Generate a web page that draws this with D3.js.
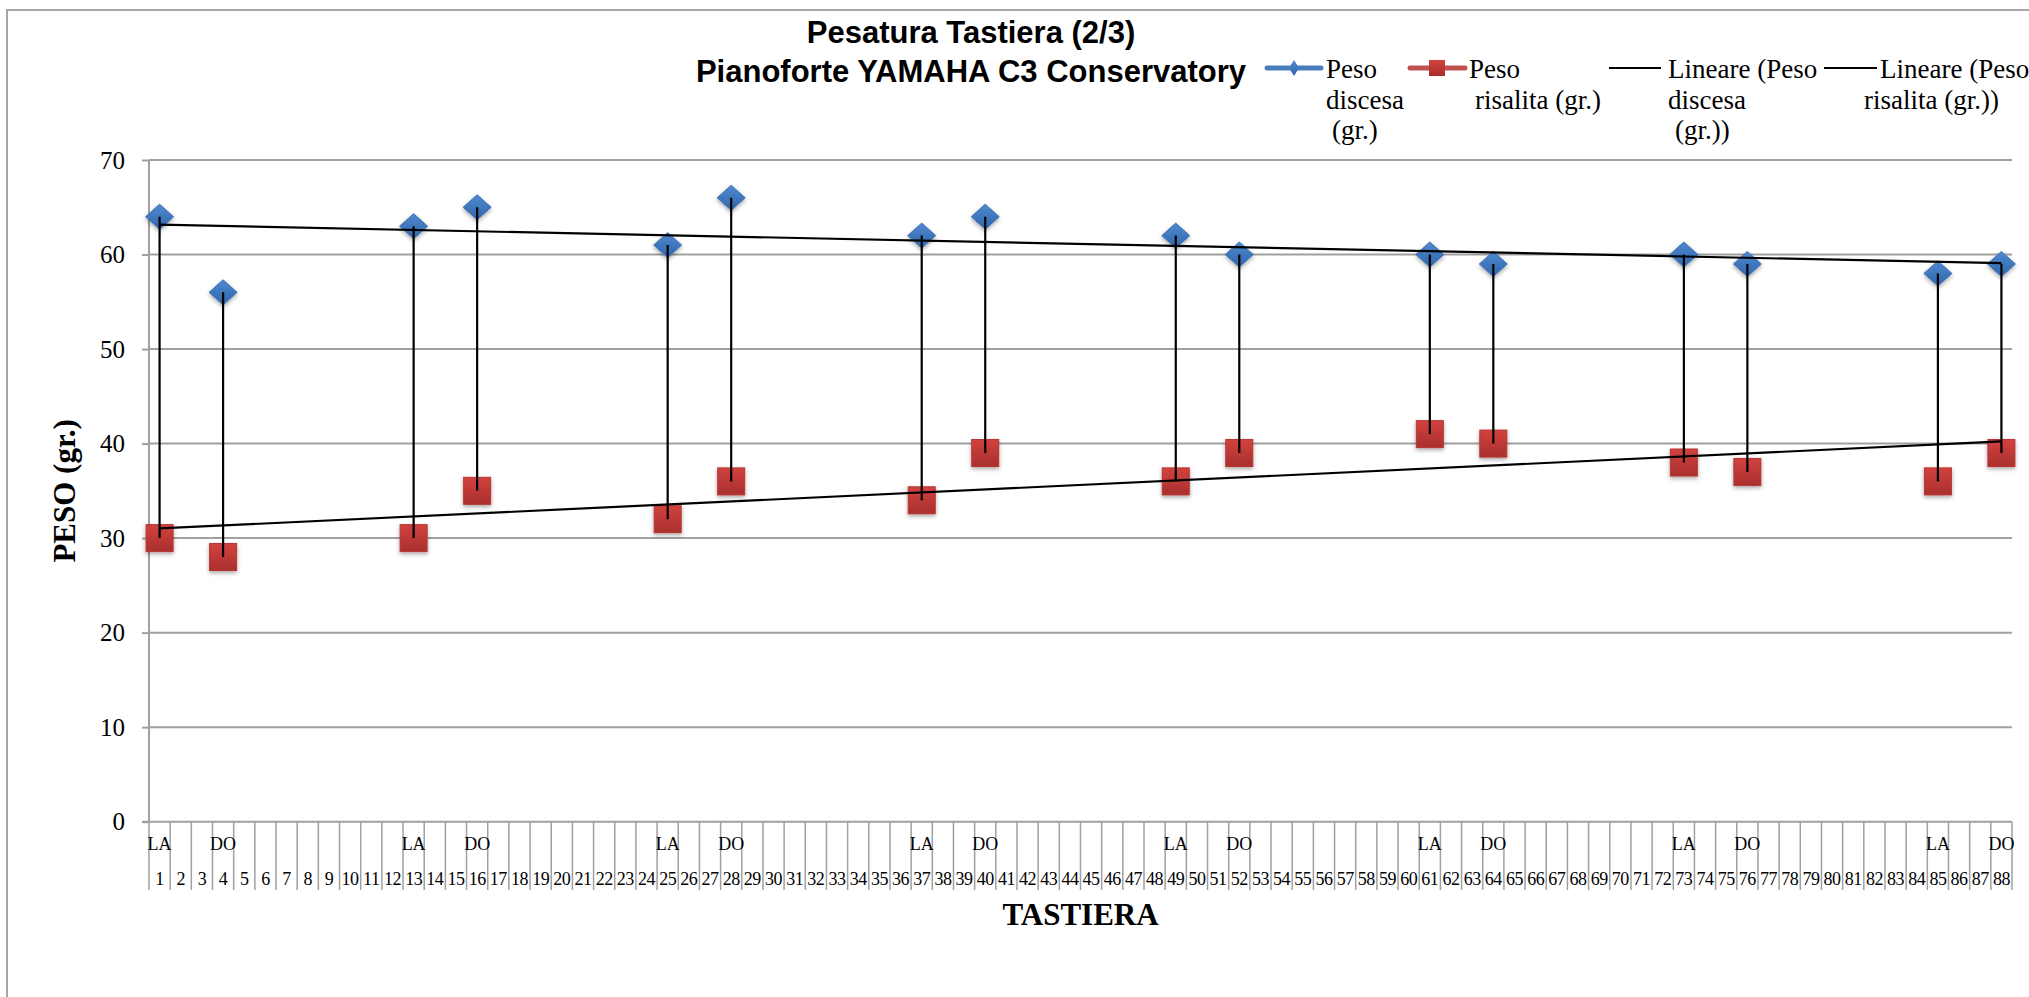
<!DOCTYPE html>
<html>
<head>
<meta charset="utf-8">
<script src="https://cdn.jsdelivr.net/npm/d3@7"></script>
<style>
  html, body { margin: 0; padding: 0; background: #fff; }
  svg { display: block; }
</style>
</head>
<body>
<svg id="chart" width="2029" height="997"></svg>
<script>
// ---- DATA ----
const categories = [1,2,3,4,5,6,7,8,9,10,11,12,13,14,15,16,17,18,19,20,21,22,23,24,25,26,27,28,29,30,
  31,32,33,34,35,36,37,38,39,40,41,42,43,44,45,46,47,48,49,50,51,52,53,54,55,56,57,58,59,60,
  61,62,63,64,65,66,67,68,69,70,71,72,73,74,75,76,77,78,79,80,81,82,83,84,85,86,87,88];
const measuredKeys = [1,4,13,16,25,28,37,40,49,52,61,64,73,76,85,88];
const noteLabels   = ["LA","DO","LA","DO","LA","DO","LA","DO","LA","DO","LA","DO","LA","DO","LA","DO"];
const pesoDiscesa  = [64,56,63,65,61,66,62,64,62,60,60,59,60,59,58,59];
const pesoRisalita = [30,28,30,35,32,36,34,39,36,39,41,40,38,37,36,39];
const yTicks = [0,10,20,30,40,50,60,70];

const titleLines = ["Pesatura Tastiera (2/3)", "Pianoforte YAMAHA C3 Conservatory"];
const yTitle = "PESO (gr.)";
const xTitle = "TASTIERA";

// ---- LAYOUT ----
const svg = d3.select("#chart");
const L = 149, R = 2012, T = 160, B = 821.7;
const serif = "'Liberation Serif', 'Times New Roman', serif";
const sans = "'Liberation Sans', Arial, sans-serif";

const x = d3.scaleBand().domain(categories).range([L, R]).padding(0);
const y = d3.scaleLinear().domain([0, 70]).range([B, T]);
const cx = k => x(k) + x.bandwidth() / 2;

// defs: gradients + shadow
const defs = svg.append("defs");
const gB = defs.append("linearGradient").attr("id","gBlue").attr("x1",0).attr("y1",0).attr("x2",0).attr("y2",1);
gB.append("stop").attr("offset","0%").attr("stop-color","#5089cf");
gB.append("stop").attr("offset","100%").attr("stop-color","#2f66ab");
const gR = defs.append("linearGradient").attr("id","gRed").attr("x1",0).attr("y1",0).attr("x2",0).attr("y2",1);
gR.append("stop").attr("offset","0%").attr("stop-color","#d2423f");
gR.append("stop").attr("offset","100%").attr("stop-color","#a92f2d");
const sh = defs.append("filter").attr("id","shadow").attr("x","-50%").attr("y","-50%").attr("width","200%").attr("height","200%");
sh.append("feDropShadow").attr("dx",0).attr("dy",2).attr("stdDeviation",2).attr("flood-color","#000").attr("flood-opacity",0.35);

// outer frame
svg.append("rect").attr("x",7).attr("y",10).attr("width",2100).attr("height",1100)
  .attr("fill","#fff").attr("stroke","#a6a6a6").attr("stroke-width",2);

// gridlines + y axis
const yAxis = d3.axisLeft(y).tickValues(yTicks).tickSize(7).tickPadding(17);
const gy = svg.append("g").attr("transform",`translate(${L},0)`).call(yAxis);
gy.select(".domain").attr("stroke","#a0a0a0").attr("stroke-width",2).attr("d",`M0,${T}V${B}`);
gy.selectAll(".tick line").attr("stroke","#a0a0a0").attr("stroke-width",2);
gy.selectAll(".tick text").attr("font-family",serif).attr("font-size",25).attr("fill","#000");
svg.append("g").selectAll("line").data(yTicks.filter(v => v > 0)).join("line")
  .attr("x1",L).attr("x2",R).attr("y1",d=>y(d)).attr("y2",d=>y(d))
  .attr("stroke","#a0a0a0").attr("stroke-width",2);

// x axis (two-level category axis)
svg.append("line").attr("x1",L-7).attr("x2",R).attr("y1",B).attr("y2",B)
  .attr("stroke","#a0a0a0").attr("stroke-width",2);
const xg = svg.append("g");
xg.selectAll("line.div").data(categories.concat(["end"])).join("line")
  .attr("class","div")
  .attr("x1",d => d === "end" ? R : x(d)).attr("x2",d => d === "end" ? R : x(d))
  .attr("y1",B).attr("y2",890)
  .attr("stroke","#a0a0a0").attr("stroke-width",1.5);
xg.selectAll("text.num").data(categories).join("text")
  .attr("class","num")
  .attr("x",d => cx(d)).attr("y",885)
  .attr("text-anchor","middle").attr("font-family",serif).attr("font-size",18)
  .attr("letter-spacing","-0.5").attr("fill","#000")
  .text(d => d);
xg.selectAll("text.note").data(measuredKeys).join("text")
  .attr("class","note")
  .attr("x",d => cx(d)).attr("y",850)
  .attr("text-anchor","middle").attr("font-family",serif).attr("font-size",18)
  .attr("fill","#000")
  .text((d,i) => noteLabels[i]);

// axis titles
svg.append("text").attr("x",(L+R)/2).attr("y",925).attr("text-anchor","middle")
  .attr("font-family",serif).attr("font-weight","bold").attr("font-size",31).text(xTitle);
svg.append("text").attr("transform",`translate(75,${(T+B)/2}) rotate(-90)`).attr("text-anchor","middle")
  .attr("font-family",serif).attr("font-weight","bold").attr("font-size",31).text(yTitle);

// markers
const pts = measuredKeys.map((k,i) => ({k, hi: pesoDiscesa[i], lo: pesoRisalita[i]}));
svg.append("g").selectAll("path").data(pts).join("path")
  .attr("transform", d => `translate(${cx(d.k)},${y(d.hi)})`)
  .attr("d","M0,-12.5L14,0L0,12.5L-14,0Z")
  .attr("fill","url(#gBlue)").attr("stroke","#3d72b5").attr("stroke-width",1)
  .attr("filter","url(#shadow)");
svg.append("g").selectAll("rect").data(pts).join("rect")
  .attr("x", d => cx(d.k) - 13.5).attr("y", d => y(d.lo) - 13.5)
  .attr("width",27).attr("height",27)
  .attr("fill","url(#gRed)").attr("stroke","#b83633").attr("stroke-width",1)
  .attr("filter","url(#shadow)");

// high-low lines
svg.append("g").selectAll("line").data(pts).join("line")
  .attr("x1",d=>cx(d.k)).attr("x2",d=>cx(d.k))
  .attr("y1",d=>y(d.hi)).attr("y2",d=>y(d.lo))
  .attr("stroke","#000").attr("stroke-width",2.2);

// linear trendlines (least squares on category index)
function linreg(xs, ys) {
  const mx = d3.mean(xs), my = d3.mean(ys);
  let num = 0, den = 0;
  xs.forEach((xv,i) => { num += (xv-mx)*(ys[i]-my); den += (xv-mx)*(xv-mx); });
  const b = num/den; return v => my + b*(v-mx);
}
const first = categories[0], last = categories[categories.length-1];
[pesoDiscesa, pesoRisalita].forEach(series => {
  const f = linreg(measuredKeys, series);
  svg.append("line")
    .attr("x1",cx(first)).attr("y1",y(f(first)))
    .attr("x2",cx(last)).attr("y2",y(f(last)))
    .attr("stroke","#000").attr("stroke-width",2.2);
});

// title
svg.append("text").attr("x",971).attr("y",43).attr("text-anchor","middle")
  .attr("font-family",sans).attr("font-weight","bold").attr("font-size",31).text(titleLines[0]);
svg.append("text").attr("x",971).attr("y",82).attr("text-anchor","middle")
  .attr("font-family",sans).attr("font-weight","bold").attr("font-size",31).text(titleLines[1]);

// legend
const lg = svg.append("g");
const ly = 68;
lg.append("line").attr("x1",1267).attr("x2",1321).attr("y1",ly).attr("y2",ly)
  .attr("stroke","#4a7ebb").attr("stroke-width",5).attr("stroke-linecap","round");
lg.append("path").attr("d",`M1294,${ly-8}L1299,${ly}L1294,${ly+8}L1289,${ly}Z`).attr("fill","url(#gBlue)");
lg.append("line").attr("x1",1410).attr("x2",1465).attr("y1",ly).attr("y2",ly)
  .attr("stroke","#c0504d").attr("stroke-width",5).attr("stroke-linecap","round");
lg.append("rect").attr("x",1429).attr("y",ly-8).attr("width",16).attr("height",16).attr("fill","url(#gRed)");
lg.append("line").attr("x1",1609).attr("x2",1661).attr("y1",ly).attr("y2",ly).attr("stroke","#000").attr("stroke-width",2);
lg.append("line").attr("x1",1824).attr("x2",1877).attr("y1",ly).attr("y2",ly).attr("stroke","#000").attr("stroke-width",2);
const legendText = [
  ["Peso",1326,78],["discesa",1326,109],["(gr.)",1332,139],
  ["Peso",1469,78],["risalita (gr.)",1475,109],
  ["Lineare (Peso",1668,78],["discesa",1668,109],["(gr.))",1675,139],
  ["Lineare (Peso",1880,78],["risalita (gr.))",1864,109]
];
lg.selectAll("text").data(legendText).join("text")
  .attr("x",d=>d[1]).attr("y",d=>d[2])
  .attr("font-family",serif).attr("font-size",27).attr("fill","#000")
  .text(d=>d[0]);
</script>
</body>
</html>
